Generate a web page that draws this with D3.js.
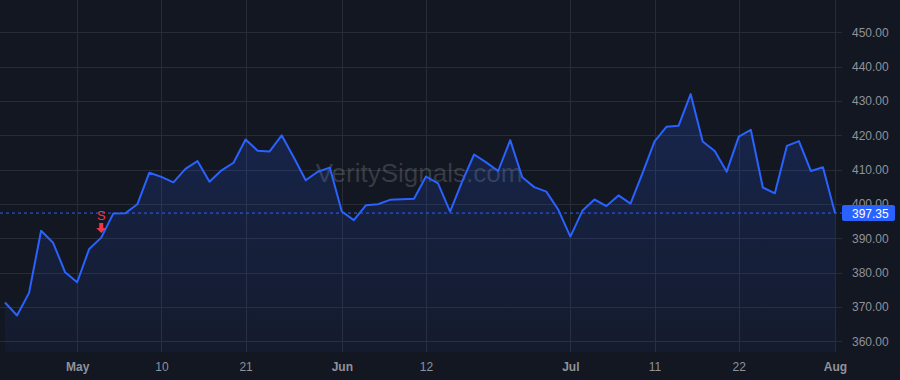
<!DOCTYPE html>
<html>
<head>
  <meta charset="utf-8">
  <script src="https://d3js.org/d3.v7.min.js"></script>
  <style>
    html, body { margin: 0; padding: 0; background: #131722; }
    svg { display: block; font-family: "Liberation Sans", Arial, sans-serif; }
  </style>
</head>
<body>
<div id="chart"></div>
<script>
// trading days, Apr 23 – Aug 1
const dates = [
  "2024-04-23","2024-04-24","2024-04-25","2024-04-26","2024-04-29","2024-04-30",
  "2024-05-01","2024-05-02","2024-05-03","2024-05-06","2024-05-07","2024-05-08","2024-05-09","2024-05-10",
  "2024-05-13","2024-05-14","2024-05-15","2024-05-16","2024-05-17","2024-05-20","2024-05-21","2024-05-22",
  "2024-05-23","2024-05-24","2024-05-28","2024-05-29","2024-05-30","2024-05-31",
  "2024-06-03","2024-06-04","2024-06-05","2024-06-06","2024-06-07","2024-06-10","2024-06-11","2024-06-12",
  "2024-06-13","2024-06-14","2024-06-17","2024-06-18","2024-06-20","2024-06-21","2024-06-24","2024-06-25",
  "2024-06-26","2024-06-27","2024-06-28",
  "2024-07-01","2024-07-02","2024-07-03","2024-07-05","2024-07-08","2024-07-09","2024-07-10","2024-07-11",
  "2024-07-12","2024-07-15","2024-07-16","2024-07-17","2024-07-18","2024-07-19","2024-07-22","2024-07-23",
  "2024-07-24","2024-07-25","2024-07-26","2024-07-29","2024-07-30","2024-07-31",
  "2024-08-01"
];

const closes = [
  371.3, 367.5, 374.1, 392.2, 388.7, 380.1,
  377.2, 386.9, 390.2, 397.2, 397.3, 399.9, 409.1, 407.9,
  406.3, 410.2, 412.5, 406.5, 409.8, 412.0, 418.8, 415.5,
  415.3, 420.0, 413.6, 406.9, 409.4, 410.6,
  397.8, 395.3, 399.6, 399.9, 401.2, 401.4, 401.5, 408.0,
  406.0, 397.8, 406.5, 414.4, 412.1, 409.6, 418.6, 407.8,
  404.9, 403.6, 398.3,
  390.5, 398.0, 401.3, 399.4, 402.5, 400.1, 409.0, 418.2,
  422.5, 422.8, 432.0, 418.2, 415.4, 409.4, 419.6, 421.6,
  404.8, 403.1, 416.9, 418.3, 409.6, 410.7,
  397.35
];

const xTickDates  = ["2024-05-01","2024-05-10","2024-05-21","2024-06-03","2024-06-12","2024-07-01","2024-07-11","2024-07-22","2024-08-01"];
const xTickLabels = ["May","10","21","Jun","12","Jul","11","22","Aug"];
const yTicks = [360, 370, 380, 390, 400, 410, 420, 430, 440, 450];

const lastPrice = 397.35;
const sellSignalDate = "2024-05-03";

const width = 900, height = 380;
const plotRight = 842, plotBottom = 352;

const svg = d3.select("#chart").append("svg")
  .attr("width", width)
  .attr("height", height);

svg.append("rect").attr("width", width).attr("height", height).attr("fill", "#131722");

const x = d3.scalePoint().domain(dates).range([5, 835]);
const y = d3.scaleLinear().domain([360, 450]).range([341.3, 32.3]);

const data = dates.map((d, i) => ({ date: d, value: closes[i] }));

// grid
svg.append("g").selectAll("line").data(yTicks).enter().append("line")
  .attr("x1", 0).attr("x2", plotRight)
  .attr("y1", d => Math.round(y(d)) + 0.5).attr("y2", d => Math.round(y(d)) + 0.5)
  .attr("stroke", "#282c37");

svg.append("g").selectAll("line").data(xTickDates).enter().append("line")
  .attr("x1", d => Math.round(x(d)) + 0.5).attr("x2", d => Math.round(x(d)) + 0.5)
  .attr("y1", 0).attr("y2", plotBottom)
  .attr("stroke", "#282c37");

// watermark
svg.append("text")
  .attr("x", 419).attr("y", 182)
  .attr("text-anchor", "middle")
  .attr("font-size", 26)
  .attr("fill", "#ffffff")
  .attr("fill-opacity", 0.16)
  .text("VeritySignals.com");

// area gradient
const defs = svg.append("defs");
const grad = defs.append("linearGradient")
  .attr("id", "area-grad")
  .attr("gradientUnits", "userSpaceOnUse")
  .attr("x1", 0).attr("y1", y(d3.max(closes)))
  .attr("x2", 0).attr("y2", plotBottom);
grad.append("stop").attr("offset", "0%").attr("stop-color", "#2962ff").attr("stop-opacity", 0.2);
grad.append("stop").attr("offset", "100%").attr("stop-color", "#2962ff").attr("stop-opacity", 0.05);

svg.append("path")
  .datum(data)
  .attr("fill", "url(#area-grad)")
  .attr("d", d3.area()
    .x(d => x(d.date))
    .y0(plotBottom)
    .y1(d => y(d.value)));

// price line
svg.append("line")
  .attr("x1", 0).attr("x2", plotRight)
  .attr("y1", y(lastPrice)).attr("y2", y(lastPrice))
  .attr("stroke", "#2962ff")
  .attr("stroke-width", 1)
  .attr("stroke-dasharray", "3,3");

svg.append("path")
  .datum(data)
  .attr("fill", "none")
  .attr("stroke", "#2962ff")
  .attr("stroke-width", 2)
  .attr("stroke-linejoin", "round")
  .attr("d", d3.line()
    .x(d => x(d.date))
    .y(d => y(d.value)));

// sell marker
const sx = x(sellSignalDate);
const sy = y(closes[dates.indexOf(sellSignalDate)]);
svg.append("text")
  .attr("x", sx).attr("y", sy - 18)
  .attr("text-anchor", "middle")
  .attr("font-size", 13)
  .attr("fill", "#f23645")
  .text("S");
svg.append("path")
  .attr("d", `M${sx - 2},${sy - 14.5} h4 v5 h3 l-5,5 l-5,-5 h3 z`)
  .attr("fill", "#f23645");

// y axis
const yAxis = svg.append("g")
  .attr("transform", `translate(${plotRight},0)`)
  .call(d3.axisRight(y).tickValues(yTicks).tickSize(0).tickPadding(10).tickFormat(d3.format(".2f")));
yAxis.select(".domain").remove();
yAxis.selectAll("text")
  .attr("font-size", 12)
  .attr("font-family", "Liberation Sans, Arial, sans-serif")
  .attr("fill", "#8f929b");

// last price label
svg.append("rect")
  .attr("x", plotRight).attr("y", y(lastPrice) - 8)
  .attr("width", 53).attr("height", 16)
  .attr("rx", 2)
  .attr("fill", "#2962ff");
svg.append("text")
  .attr("x", plotRight + 10).attr("y", y(lastPrice) + 4.5)
  .attr("font-size", 12)
  .attr("fill", "#ffffff")
  .text(d3.format(".2f")(lastPrice));

// x axis
const xAxis = svg.append("g")
  .attr("transform", `translate(0,${plotBottom})`)
  .call(d3.axisBottom(x).tickValues(xTickDates).tickSize(0).tickPadding(10)
    .tickFormat(d => xTickLabels[xTickDates.indexOf(d)]));
xAxis.select(".domain").remove();
xAxis.selectAll("text")
  .attr("font-size", 12)
  .attr("font-family", "Liberation Sans, Arial, sans-serif")
  .style("fill", "#8f929b")
  .attr("font-weight", d => isNaN(+xTickLabels[xTickDates.indexOf(d)]) ? "bold" : "normal");
</script>
</body>
</html>
